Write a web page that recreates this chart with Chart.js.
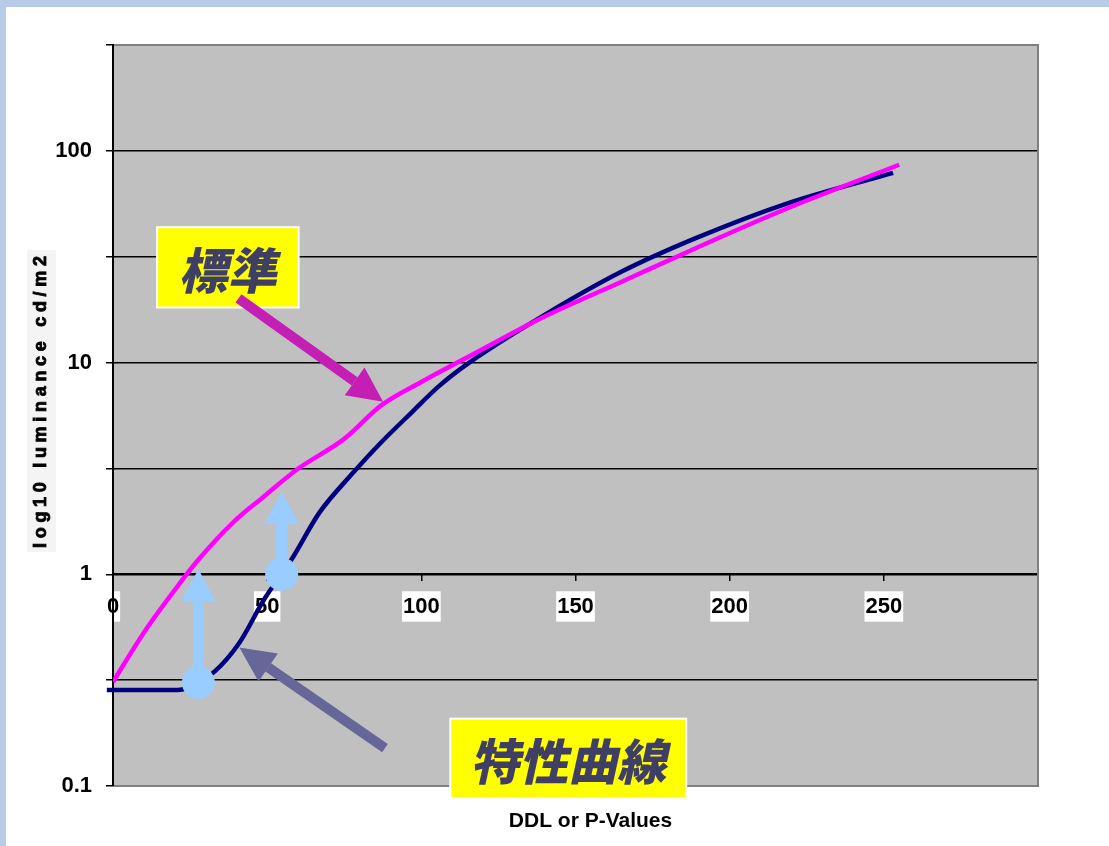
<!DOCTYPE html>
<html>
<head>
<meta charset="utf-8">
<script src="https://cdn.jsdelivr.net/npm/chart.js"></script>
<style>
    html, body { margin: 0; padding: 0; background: #fff; overflow: hidden; }
    canvas { display: block; }
</style>
</head>
<body>
<canvas id="lumChart" width="1109" height="846"></canvas>
<script>
// DDL / P-value on x, luminance (cd/m2) on a log y axis
const standardX = [0, 10, 21, 27, 39, 48, 60, 75, 87, 100, 116, 140, 165, 189, 219, 255];
const standardY = [0.31, 0.53, 0.88, 1.14, 1.76, 2.27, 3.15, 4.36, 6.28, 8.1, 10.8, 16.5, 24.1, 34.7, 53.7, 86];

const measuredX = [-2, 21, 24, 33, 41, 49, 58, 67, 78, 86, 97, 106, 116, 140, 165, 189, 219, 253];
const measuredY = [0.284, 0.284, 0.29, 0.348, 0.475, 0.76, 1.18, 1.96, 3.03, 4.06, 5.84, 7.8, 10.1, 16.8, 26.9, 38.7, 56.7, 78.7];

const xTickValues = [0, 50, 100, 150, 200, 250, 300];
const xTickLabels = ['0', '50', '100', '150', '200', '250', ''];
const yGridValues = [0.1, 0.3162, 1, 3.162, 10, 31.62, 100, 316.2278];
const yTickLabels = ['0.1', '', '1', '', '10', '', '100', ''];

const xTitle = 'DDL or P-Values';
const yTitle = 'log10 luminance cd/m2';

// callouts, anchored in data units
const callouts = [
    { text: '標準', box: [14.3, 60.2, 43.6, 18.2], from: [40.7, 20.1], to: [87.6, 6.53], color: '#c41eb5' },
    { text: '特性曲線', box: [109.4, 185.9, 0.208, 0.0877], from: [88.2, 0.151], to: [41.0, 0.451], color: '#666699' }
];
const shifts = [
    { at: [27.7, 0.308], to: 1.056 },
    { at: [54.7, 1], to: 2.45 }
];

const toPoints = (xs, ys) => xs.map((x, i) => ({ x, y: ys[i] }));
const tickFont = { family: 'Arial, "Liberation Sans", sans-serif', size: 22, weight: 'bold' };

const drawArrow = (ctx, x1, y1, x2, y2, color, shaft, headLen, headW) => {
    const ang = Math.atan2(y2 - y1, x2 - x1);
    const bx = x2 - Math.cos(ang) * headLen;
    const by = y2 - Math.sin(ang) * headLen;
    ctx.strokeStyle = color;
    ctx.fillStyle = color;
    ctx.lineWidth = shaft;
    ctx.lineCap = 'butt';
    ctx.beginPath();
    ctx.moveTo(x1, y1);
    ctx.lineTo(bx, by);
    ctx.stroke();
    const nx = -Math.sin(ang) * headW / 2;
    const ny = Math.cos(ang) * headW / 2;
    ctx.beginPath();
    ctx.moveTo(x2, y2);
    ctx.lineTo(bx + nx, by + ny);
    ctx.lineTo(bx - nx, by - ny);
    ctx.closePath();
    ctx.fill();
};

const spacedText = (ctx, text, cx, cy, targetW) => {
    const chars = [...text];
    const widths = chars.map(c => ctx.measureText(c).width);
    const raw = widths.reduce((a, b) => a + b, 0);
    const gap = (targetW - raw) / (chars.length - 1);
    let x = cx - targetW / 2;
    chars.forEach((c, i) => {
        ctx.fillText(c, x, cy);
        ctx.strokeText(c, x, cy);
        x += widths[i] + gap;
    });
};

const sheetPlugin = {
    id: 'sheet',
    beforeDraw(chart) {
        const { ctx, chartArea: a, width, height } = chart;
        ctx.save();
        ctx.fillStyle = '#fff';
        ctx.fillRect(0, 0, width, height);
        ctx.fillStyle = '#b8cce8';
        ctx.fillRect(0, 0, width, 7);
        ctx.fillRect(0, 0, 6, height);
        ctx.fillStyle = '#c0c0c0';
        ctx.fillRect(a.left, a.top, a.right - a.left, a.bottom - a.top);

        // axis titles
        ctx.fillStyle = '#f4f4f4';
        ctx.fillRect(27, a.top + 205, 29, 302);
        ctx.fillStyle = '#000';
        ctx.strokeStyle = '#000';
        ctx.lineWidth = 0.8;
        ctx.font = 'bold 18px Arial, "Liberation Sans", sans-serif';
        ctx.textAlign = 'left';
        ctx.textBaseline = 'middle';
        ctx.translate(41, a.top + 357);
        ctx.rotate(-Math.PI / 2);
        spacedText(ctx, yTitle, 0, 0, 292);
        ctx.restore();

        ctx.save();
        ctx.fillStyle = '#000';
        ctx.font = 'bold 21px Arial, "Liberation Sans", sans-serif';
        ctx.textAlign = 'center';
        ctx.textBaseline = 'middle';
        ctx.fillText(xTitle, (a.left + a.right) / 2 + 15, a.bottom + 35);
        ctx.restore();
    },
    beforeDatasetsDraw(chart) {
        const { ctx, chartArea: a } = chart;
        ctx.save();
        ctx.strokeStyle = '#808080';
        ctx.lineWidth = 2;
        ctx.beginPath();
        ctx.moveTo(a.left + 1, a.top);
        ctx.lineTo(a.right, a.top);
        ctx.lineTo(a.right, a.bottom);
        ctx.lineTo(a.left + 1, a.bottom);
        ctx.stroke();
        ctx.restore();
    },
    afterDatasetsDraw(chart) {
        const { ctx } = chart;
        const xs = chart.scales.x;
        const ys = chart.scales.y;
        const px = v => xs.getPixelForValue(v);
        const py = v => ys.getPixelForValue(v);
        ctx.save();

        callouts.forEach(c => {
            const [x0, x1, yt, yb] = c.box;
            const l = px(x0), r = px(x1), t = py(yt), b = py(yb);
            ctx.fillStyle = '#ffff00';
            ctx.fillRect(l, t, r - l, b - t);
            ctx.strokeStyle = '#fff';
            ctx.lineWidth = 2;
            ctx.strokeRect(l, t, r - l, b - t);
            ctx.save();
            ctx.translate((l + r) / 2 + 4, (t + b) / 2 + 3);
            ctx.transform(1, 0, -0.22, 1, 0, 0);
            ctx.fillStyle = '#3f3f66';
            ctx.font = '900 49px "Noto Sans CJK JP", sans-serif';
            ctx.textAlign = 'center';
            ctx.textBaseline = 'middle';
            ctx.fillText(c.text, 0, 0);
            ctx.restore();
            drawArrow(ctx, px(c.from[0]), py(c.from[1]), px(c.to[0]), py(c.to[1]), c.color, 10, 35, 34);
        });

        shifts.forEach(s => {
            const x = px(s.at[0]);
            const y = py(s.at[1]);
            drawArrow(ctx, x, y, x, py(s.to), '#99ccff', 11, 32, 35);
            ctx.fillStyle = '#99ccff';
            ctx.beginPath();
            ctx.arc(x, y, 16.5, 0, Math.PI * 2);
            ctx.fill();
        });
        ctx.restore();
    }
};

new Chart(document.getElementById('lumChart').getContext('2d'), {
    type: 'line',
    data: {
        datasets: [
            {
                label: '標準',
                data: toPoints(standardX, standardY),
                borderColor: '#ff00ff',
                borderWidth: 4.5,
                pointRadius: 0,
                cubicInterpolationMode: 'monotone',
                fill: false
            },
            {
                label: '特性曲線',
                data: toPoints(measuredX, measuredY),
                borderColor: '#000080',
                borderWidth: 4.5,
                pointRadius: 0,
                cubicInterpolationMode: 'monotone',
                fill: false,
                clip: false
            }
        ]
    },
    options: {
        responsive: false,
        animation: false,
        layout: { padding: { left: 0, top: 45, right: 71, bottom: 60 } },
        plugins: {
            legend: { display: false },
            tooltip: { enabled: false }
        },
        scales: {
            x: {
                type: 'linear',
                min: 0,
                max: 300,
                position: { y: 1 },
                afterBuildTicks: s => { s.ticks = xTickValues.map(v => ({ value: v })); },
                ticks: {
                    callback: (v, i) => xTickLabels[i],
                    font: tickFont,
                    color: '#000',
                    padding: 13,
                    maxRotation: 0,
                    autoSkip: false,
                    showLabelBackdrop: true,
                    backdropColor: c => (xTickLabels[c.index] ? '#fff' : 'rgba(0,0,0,0)'),
                    backdropPadding: { x: 1, y: 2 }
                },
                grid: { drawOnChartArea: false, color: '#000', lineWidth: 1.5, tickLength: 6 },
                border: { color: '#000', width: 2 }
            },
            y: {
                type: 'logarithmic',
                min: 0.1,
                max: 316.2278,
                afterBuildTicks: s => { s.ticks = yGridValues.map(v => ({ value: v })); },
                afterFit: s => { s.width = 113; },
                ticks: {
                    callback: (v, i) => yTickLabels[i],
                    font: tickFont,
                    color: '#000',
                    padding: 14,
                    autoSkip: false
                },
                grid: { color: '#000', lineWidth: 1.5, tickLength: 7 },
                border: { color: '#000', width: 2 }
            }
        }
    },
    plugins: [sheetPlugin]
});
</script>
</body>
</html>
